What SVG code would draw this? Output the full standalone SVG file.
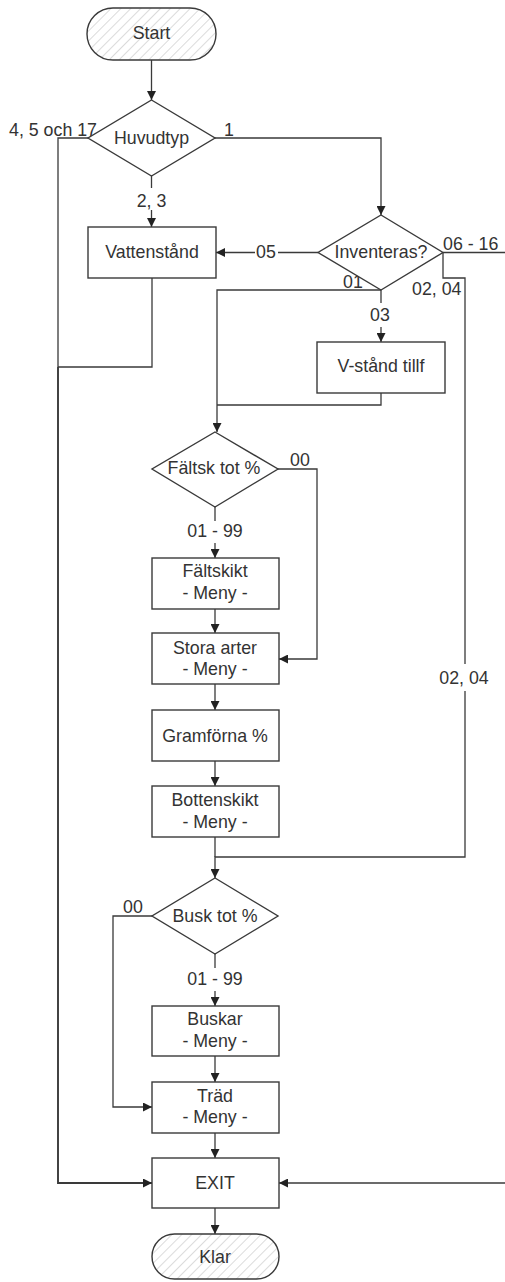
<svg xmlns="http://www.w3.org/2000/svg" width="505" height="1282" viewBox="0 0 505 1282">
  <style>
    text { font-family: "Liberation Sans", Arial, sans-serif; font-size: 17.8px; fill: #333; }
    .c { text-anchor: middle; }
    .e { text-anchor: end; }
    .box { fill: #fff; stroke: #3a3a3a; stroke-width: 1.4; }
    .term { fill: url(#hatch); stroke: #3a3a3a; stroke-width: 1.4; }
    .ln { fill: none; stroke: #3a3a3a; stroke-width: 1.3; }
    .arr { marker-end: url(#ah); }
  </style>
  <defs>
    <pattern id="hatch" patternUnits="userSpaceOnUse" width="7" height="7" patternTransform="rotate(45)">
      <rect width="7" height="7" fill="#fff"/>
      <line x1="0" y1="0" x2="0" y2="7" stroke="#c4c4c4" stroke-width="1.2"/>
    </pattern>
    <marker id="ah" viewBox="0 0 10 10" refX="10" refY="5" markerWidth="9" markerHeight="9" markerUnits="userSpaceOnUse" orient="auto">
      <path d="M0,0 L10,5 L0,10 z" fill="#222"/>
    </marker>
  </defs>

  <!-- connectors -->
  <g id="connectors">
    <path class="ln arr" d="M151.5,60 V100"/>
    <!-- Huvudtyp: 4, 5 och 17 -> EXIT -->
    <path class="ln" d="M88,138 H58 V367"/>
    <path class="ln arr" d="M58,367 V1183 H152" style="stroke-width:1.9"/>
    <!-- Huvudtyp: 1 -> Inventeras -->
    <path class="ln arr" d="M215,138 H381 V215"/>
    <!-- Huvudtyp: 2, 3 -> Vattenstånd -->
    <path class="ln" d="M151.5,176 V188"/>
    <path class="ln arr" d="M151.5,210 V227"/>
    <!-- Vattenstånd -> main left line -->
    <path class="ln" d="M152,278 V367 H58"/>
    <!-- Inventeras: 05 -> Vattenstånd -->
    <path class="ln" d="M318,252.5 H278"/>
    <path class="ln arr" d="M255,252.5 H216"/>
    <!-- Inventeras: 06 - 16 -> EXIT (runs off the right edge) -->
    <path class="ln" d="M443,252.5 H505"/>
    <path class="ln arr" d="M505,1183 H279"/>
    <!-- Inventeras: 02, 04 -> Busk tot % -->
    <path class="ln" d="M443,252.5 V278 H465 V664"/>
    <path class="ln arr" d="M465,691 V857 H215 V878"/>
    <!-- Inventeras: 01 -> Fältsk tot % -->
    <path class="ln arr" d="M381,290 H217 V432"/>
    <!-- Inventeras: 03 -> V-stånd tillf -->
    <path class="ln" d="M381,290 V303"/>
    <path class="ln arr" d="M381,327 V342"/>
    <path class="ln" d="M381,393 V405 H217"/>
    <!-- Fältsk tot %: 00 -> Stora arter -->
    <path class="ln arr" d="M278,469 H317 V659 H279"/>
    <!-- Fältsk tot %: 01 - 99 -> Fältskikt -->
    <path class="ln" d="M215,507 V521"/>
    <path class="ln arr" d="M215,543 V558"/>
    <path class="ln arr" d="M215,609 V633"/>
    <path class="ln arr" d="M215,684 V710"/>
    <path class="ln arr" d="M215,761 V786"/>
    <path class="ln" d="M215,837 V857"/>
    <!-- Busk tot %: 00 -> Träd -->
    <path class="ln arr" d="M152,916 H113 V1107 H152"/>
    <!-- Busk tot %: 01 - 99 -> Buskar -->
    <path class="ln" d="M215,954 V968"/>
    <path class="ln arr" d="M215,991 V1006"/>
    <path class="ln arr" d="M215,1056 V1082"/>
    <path class="ln arr" d="M215,1133 V1158"/>
    <path class="ln arr" d="M215,1208 V1234"/>

    <!-- branch labels -->
    <text class="e" x="97" y="136">4, 5 och 17</text>
    <text x="224" y="136">1</text>
    <text class="c" x="151.5" y="207">2, 3</text>
    <text class="c" x="266" y="258">05</text>
    <text x="443" y="250">06 - 16</text>
    <text x="343" y="288">01</text>
    <text x="412" y="295">02, 04</text>
    <text class="c" x="380" y="321">03</text>
    <text x="290" y="466">00</text>
    <text class="c" x="215" y="537">01 - 99</text>
    <text class="c" x="464" y="684">02, 04</text>
    <text x="123" y="913">00</text>
    <text class="c" x="215" y="985">01 - 99</text>
  </g>

  <g id="start">
    <rect class="term" x="87" y="8" width="129" height="52" rx="26" ry="26"/>
    <text class="c" x="151.5" y="39">Start</text>
  </g>
  <g id="huvudtyp">
    <polygon class="box" points="151.5,100 215,138 151.5,176 88,138"/>
    <text class="c" x="151.5" y="144">Huvudtyp</text>
  </g>
  <g id="vattenstand">
    <rect class="box" x="88" y="227" width="128" height="51"/>
    <text class="c" x="152" y="258">Vattenstånd</text>
  </g>
  <g id="inventeras">
    <polygon class="box" points="381,215 443,252.5 381,290 318,252.5"/>
    <text class="c" x="381" y="258">Inventeras?</text>
  </g>
  <g id="vstand-tillf">
    <rect class="box" x="317" y="342" width="128" height="51"/>
    <text class="c" x="381" y="372">V-stånd tillf</text>
  </g>
  <g id="faltsk-tot">
    <polygon class="box" points="215,432 278,469 215,507 152,469"/>
    <text class="c" x="214" y="474">Fältsk tot %</text>
  </g>
  <g id="faltskikt">
    <rect class="box" x="152" y="558" width="127" height="51"/>
    <text class="c" x="215" y="577">Fältskikt</text>
    <text class="c" x="215" y="599">- Meny -</text>
  </g>
  <g id="stora-arter">
    <rect class="box" x="152" y="633" width="127" height="51"/>
    <text class="c" x="215" y="654">Stora arter</text>
    <text class="c" x="215" y="675">- Meny -</text>
  </g>
  <g id="gramforna">
    <rect class="box" x="152" y="710" width="127" height="51"/>
    <text class="c" x="215" y="742">Gramförna %</text>
  </g>
  <g id="bottenskikt">
    <rect class="box" x="152" y="786" width="127" height="51"/>
    <text class="c" x="215" y="806">Bottenskikt</text>
    <text class="c" x="215" y="828">- Meny -</text>
  </g>
  <g id="busk-tot">
    <polygon class="box" points="215,878 278,916 215,954 152,916"/>
    <text class="c" x="215" y="922">Busk tot %</text>
  </g>
  <g id="buskar">
    <rect class="box" x="152" y="1006" width="127" height="50"/>
    <text class="c" x="215" y="1025">Buskar</text>
    <text class="c" x="215" y="1047">- Meny -</text>
  </g>
  <g id="trad">
    <rect class="box" x="152" y="1082" width="127" height="51"/>
    <text class="c" x="215" y="1102">Träd</text>
    <text class="c" x="215" y="1123">- Meny -</text>
  </g>
  <g id="exit">
    <rect class="box" x="152" y="1158" width="127" height="50"/>
    <text class="c" x="215" y="1189">EXIT</text>
  </g>
  <g id="klar">
    <rect class="term" x="152" y="1234" width="127" height="45" rx="22.5" ry="22.5"/>
    <text class="c" x="215" y="1263">Klar</text>
  </g>
</svg>
